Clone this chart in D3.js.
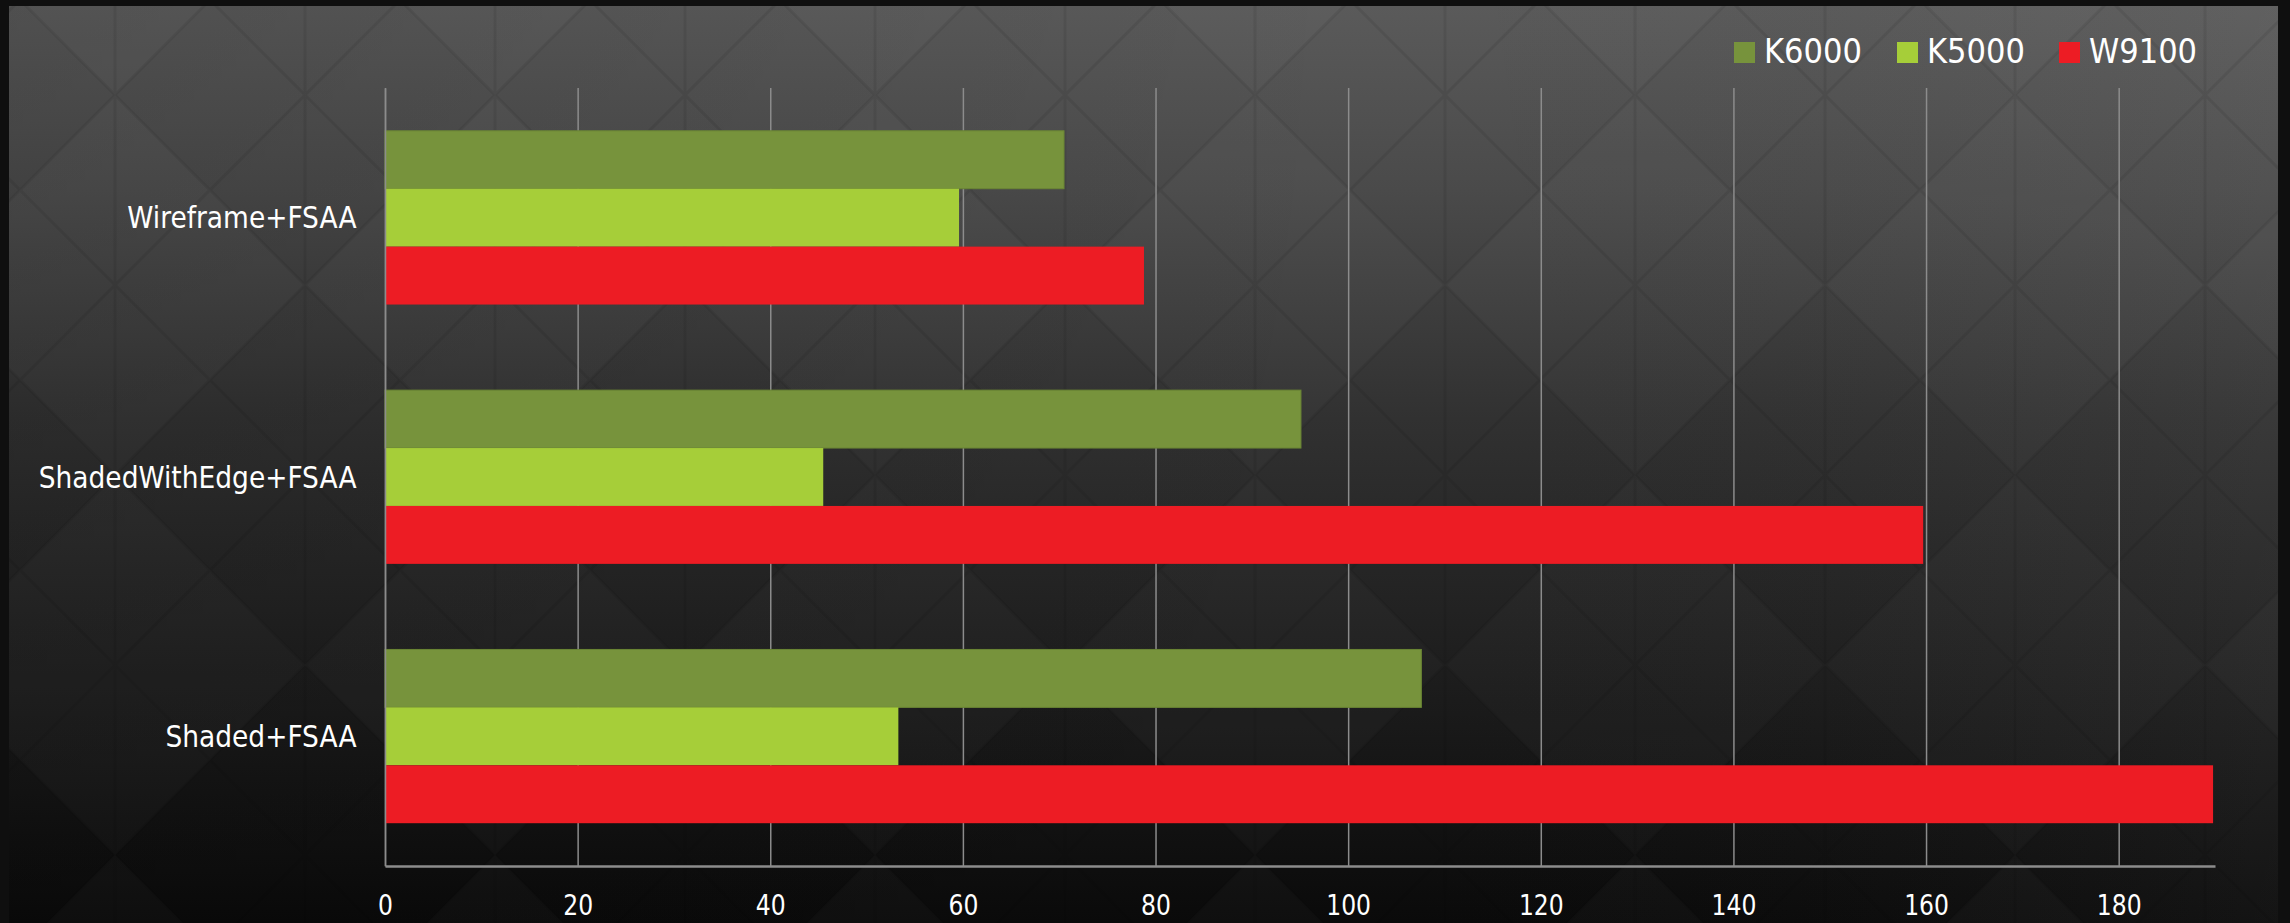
<!DOCTYPE html>
<html>
<head>
<meta charset="utf-8">
<script src="https://cdn.jsdelivr.net/npm/d3@7"></script>
<style>
  html, body { margin: 0; padding: 0; background: #0e0e0e; overflow: hidden; }
  svg text { font-family: "DejaVu Sans Condensed", "DejaVu Sans", sans-serif; fill: #ffffff; }
</style>
</head>
<body>
<svg id="chart" width="2290" height="923"></svg>
<script>
// ---- data ----
const categories = ["Wireframe+FSAA", "ShadedWithEdge+FSAA", "Shaded+FSAA"];
const seriesNames = ["K6000", "K5000", "W9100"];
const seriesColors = ["#77933c", "#a6ce39", "#ed1c24"];
const k6000 = [70.5, 95.1, 107.6];
const k5000 = [59.6, 45.5, 53.3];
const w9100 = [78.8, 159.7, 189.8];
const tickValues = [0, 20, 40, 60, 80, 100, 120, 140, 160, 180];
const xMax = 190;

const seriesValues = [k6000, k5000, w9100];

// ---- layout ----
const W = 2290, H = 923;
const plot = { left: 385, right: 2215, top: 88, bottom: 866 };

const svg = d3.select("#chart");
const defs = svg.append("defs");

// background gradient
const bg = defs.append("linearGradient").attr("id", "bgGrad")
  .attr("x1", 0).attr("y1", 0).attr("x2", 0).attr("y2", 1);
[[0, "#5a5a5a"], [0.2, "#4a4a4a"], [0.45, "#313131"], [0.7, "#1f1f1f"], [1, "#0a0a0a"]]
  .forEach(([o, c]) => bg.append("stop").attr("offset", o).attr("stop-color", c));

const bg2 = defs.append("linearGradient").attr("id", "bgGrad2")
  .attr("x1", 0).attr("y1", 0).attr("x2", 1).attr("y2", 0);
bg2.append("stop").attr("offset", 0).attr("stop-color", "#000").attr("stop-opacity", 0.12);
bg2.append("stop").attr("offset", 0.6).attr("stop-color", "#000").attr("stop-opacity", 0);
bg2.append("stop").attr("offset", 1).attr("stop-color", "#fff").attr("stop-opacity", 0.04);

// triangle texture pattern
const pat = defs.append("pattern").attr("id", "tri")
  .attr("patternUnits", "userSpaceOnUse").attr("width", 190).attr("height", 190)
  .attr("x", 20).attr("y", 0);
pat.append("path").attr("d", "M0,0 L190,190 M190,0 L0,190 M95,0 L95,190")
  .attr("stroke", "#000").attr("stroke-opacity", 0.08).attr("stroke-width", 3).attr("fill", "none");
const pat2 = defs.append("pattern").attr("id", "tri2")
  .attr("patternUnits", "userSpaceOnUse").attr("width", 380).attr("height", 380)
  .attr("x", 115).attr("y", 95);
pat2.append("path").attr("d", "M0,0 L190,190 L0,380 Z M380,0 L190,190 L380,380 Z")
  .attr("fill", "#fff").attr("fill-opacity", 0.02);

svg.append("rect").attr("width", W).attr("height", H).attr("fill", "#0f0f0f");
["url(#bgGrad)", "url(#bgGrad2)", "url(#tri2)", "url(#tri)"].forEach(f =>
  svg.append("rect").attr("x", 9).attr("y", 6).attr("width", W - 21).attr("height", H - 6).attr("fill", f));

// ---- scales ----
const x = d3.scaleLinear().domain([0, xMax]).range([plot.left, plot.right]);
const y = d3.scaleBand().domain(categories).range([plot.top, plot.bottom])
  .paddingInner(0.33).paddingOuter(0.165);
const ySub = d3.scaleBand().domain(seriesNames).range([0, y.bandwidth()]).padding(0);
const color = d3.scaleOrdinal().domain(seriesNames).range(seriesColors);

// ---- grid ----
const grid = svg.append("g").attr("transform", `translate(0,${plot.bottom})`)
  .call(d3.axisBottom(x).tickValues(tickValues).tickSize(-(plot.bottom - plot.top)).tickFormat(""));
grid.select(".domain").remove();
grid.selectAll(".tick line").attr("stroke", "#8c8c8c").attr("stroke-width", 1.5);

// ---- bars ----
const rows = categories.map((c, i) => ({ cat: c, vals: seriesNames.map((s, j) => ({ s, v: seriesValues[j][i] })) }));
const g = svg.append("g");
const groups = g.selectAll("g.grp").data(rows).join("g")
  .attr("transform", d => `translate(0,${y(d.cat)})`);
groups.selectAll("rect").data(d => d.vals).join("rect")
  .attr("x", x(0))
  .attr("y", d => ySub(d.s))
  .attr("width", d => x(d.v) - x(0))
  .attr("height", ySub.bandwidth())
  .attr("fill", d => color(d.s))
  .attr("stroke", d => d.s === "K6000" ? "#6a8534" : "none")
  .attr("stroke-width", 1);

// ---- x axis ----
const xAxis = svg.append("g").attr("transform", `translate(0,${plot.bottom})`)
  .call(d3.axisBottom(x).tickValues(tickValues).tickSize(0).tickPadding(0));
xAxis.select(".domain").attr("stroke", "#8c8c8c").attr("stroke-width", 2.5);
xAxis.selectAll(".tick text").attr("y", 39).attr("dy", "0.36em")
  .attr("font-size", 29).style("fill", "#fff")
  .attr("transform", "scale(0.9,1)");

// ---- y labels ----
const yAxis = svg.append("g").attr("transform", `translate(${plot.left},0)`)
  .call(d3.axisLeft(y).tickSize(0).tickPadding(30));
yAxis.select(".domain").attr("stroke", "#8c8c8c").attr("stroke-width", 1.5);
yAxis.selectAll(".tick text").attr("font-size", 31).attr("dy", "0.34em").style("fill", "#fff")
  .attr("transform", "scale(0.95,1)");

// ---- legend ----
const legendX = [1734, 1897, 2059];
const legend = svg.append("g");
const li = legend.selectAll("g").data(seriesNames).join("g")
  .attr("transform", (d, i) => `translate(${legendX[i]},42)`);
li.append("rect").attr("width", 21).attr("height", 21).attr("fill", d => color(d));
li.append("text").attr("x", 30).attr("y", 21).attr("font-size", 34).text(d => d);
</script>
</body>
</html>
